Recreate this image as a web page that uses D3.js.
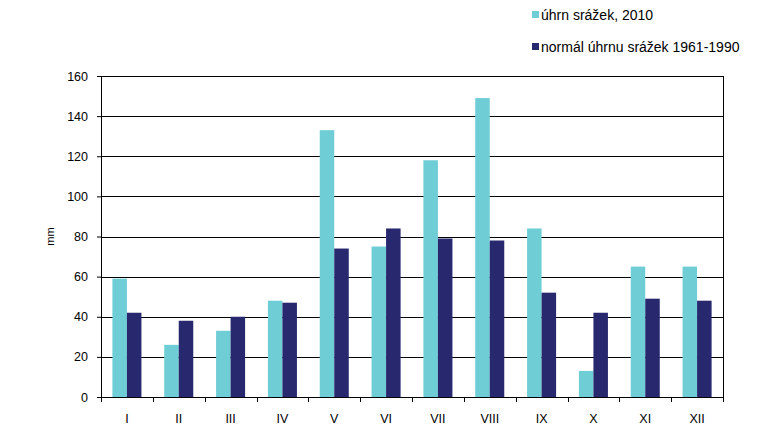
<!DOCTYPE html>
<meta charset="utf-8">
<script src="https://d3js.org/d3.v7.min.js"></script>
<style>
  body { margin: 0; background: #fff; }
  text { font-family: "Liberation Sans", Arial, sans-serif; fill: #000; }
</style>
<div id="chart"></div>
<script>
  // data
  var months = ["I", "II", "III", "IV", "V", "VI", "VII", "VIII", "IX", "X", "XI", "XII"];
  var rain2010 = [59, 26, 33, 48, 133, 75, 118, 149, 84, 13, 65, 65];
  var normal = [42, 38, 40, 47, 74, 84, 79, 78, 52, 42, 49, 48];
  var seriesNames = ["úhrn srážek, 2010", "normál úhrnu srážek 1961-1990"];
  var yTicks = [0, 20, 40, 60, 80, 100, 120, 140, 160];

  var colors = ["#6fcdd6", "#27286e"];

  var margin = {top: 76, right: 53, bottom: 49, left: 101},
      width = 776 - margin.left - margin.right,
      height = 446 - margin.top - margin.bottom;

  var svg = d3.select("#chart").append("svg")
      .attr("width", 776)
      .attr("height", 446);

  var g = svg.append("g")
      .attr("transform", "translate(" + margin.left + "," + margin.top + ")");

  var x = d3.scaleBand().domain(months).range([0, width]).padding(0);
  var y = d3.scaleLinear().domain([0, 160]).range([height, 0]);

  var inner = d3.scaleBand().domain([0, 1])
      .range([x.bandwidth() * 0.22, x.bandwidth() * 0.78]);

  // gridlines
  g.selectAll(".grid").data(yTicks.slice(1)).enter().append("line")
      .attr("x1", 0).attr("x2", width)
      .attr("y1", function(d) { return Math.round(y(d)) + 0.5; })
      .attr("y2", function(d) { return Math.round(y(d)) + 0.5; })
      .attr("stroke", "#000").attr("stroke-width", 1);

  // right border
  g.append("line")
      .attr("x1", width + 0.5).attr("x2", width + 0.5)
      .attr("y1", 0).attr("y2", height)
      .attr("stroke", "#000");

  // bars
  var data = months.map(function(m, i) { return {m: m, v: [rain2010[i], normal[i]]}; });
  var groups = g.selectAll(".grp").data(data).enter().append("g")
      .attr("transform", function(d) { return "translate(" + x(d.m) + ",0)"; });
  groups.selectAll("rect").data(function(d) { return d.v; }).enter().append("rect")
      .attr("x", function(d, i) { return inner(i); })
      .attr("width", inner.bandwidth())
      .attr("y", function(d) { return y(d); })
      .attr("height", function(d) { return height - y(d); })
      .attr("fill", function(d, i) { return colors[i]; });

  // y axis
  var yAxis = g.append("g")
      .call(d3.axisLeft(y).tickValues(yTicks).tickSize(4).tickPadding(9));
  yAxis.select(".domain").attr("stroke", "#000");
  yAxis.selectAll("text").style("font-size", "12.5px");

  // x axis
  var xAxis = g.append("g")
      .attr("transform", "translate(0," + height + ")")
      .call(d3.axisBottom(x).tickSize(0).tickPadding(17));
  xAxis.select(".domain").attr("stroke", "#000");
  xAxis.selectAll("text").style("font-size", "12.5px");
  // tick marks between categories
  xAxis.selectAll(".sep").data(months.concat(["end"])).enter().append("line")
      .attr("x1", function(d, i) { return Math.round(i * x.step()) + 0.5; })
      .attr("x2", function(d, i) { return Math.round(i * x.step()) + 0.5; })
      .attr("y1", 0).attr("y2", 5)
      .attr("stroke", "#000");

  // y label
  svg.append("text")
      .attr("transform", "translate(54," + (margin.top + height / 2) + ") rotate(-90)")
      .attr("text-anchor", "middle")
      .style("font-size", "11px")
      .text("mm");

  // legend
  var legend = svg.selectAll(".leg").data(seriesNames).enter().append("g")
      .attr("transform", function(d, i) { return "translate(532," + (11 + i * 32) + ")"; });
  legend.append("rect").attr("width", 7).attr("height", 7)
      .attr("fill", function(d, i) { return colors[i]; });
  legend.append("text").attr("x", 9).attr("y", 9)
      .style("font-size", "14px")
      .text(function(d) { return d; });
</script>
